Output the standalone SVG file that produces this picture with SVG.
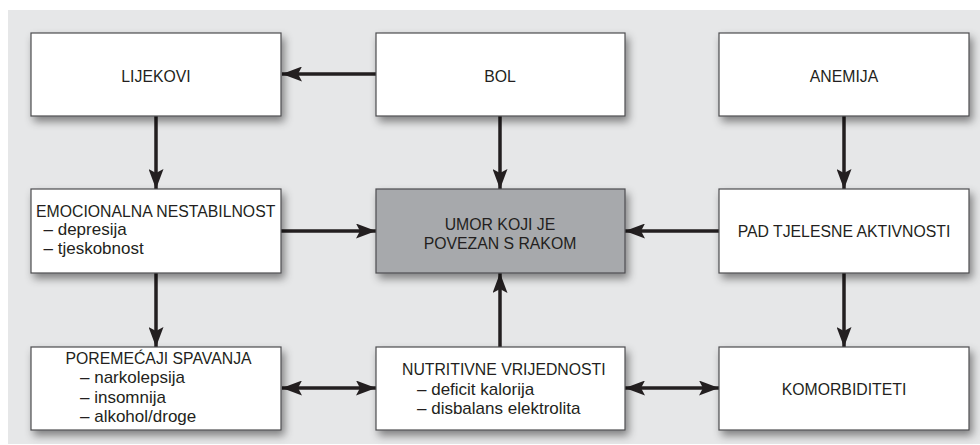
<svg xmlns="http://www.w3.org/2000/svg" width="980" height="445" viewBox="0 0 980 445">
<style>
.box{fill:#ffffff;stroke:#4d4d4f;stroke-width:1.2;filter:url(#sh)}
.core{fill:#a7a9ac}
.t{font-family:"Liberation Sans",Arial,sans-serif;font-size:15.8px;fill:#231f20}
.s{font-size:17px}
.c{text-anchor:middle}
.ln{stroke:#231f20;stroke-width:3.5;fill:none}
</style>
<defs>
<filter id="sh" x="-10%" y="-10%" width="130%" height="140%">
<feDropShadow dx="3" dy="5" stdDeviation="4" flood-color="#000" flood-opacity="0.45"/>
</filter>
<marker id="ah" markerUnits="userSpaceOnUse" viewBox="0 0 20 15" refX="20" refY="7.5" markerWidth="20" markerHeight="15" orient="auto-start-reverse">
<path d="M0,0 L20,7.5 L0,15 L4,7.5 Z" fill="#231f20"/>
</marker>
</defs>
<rect x="8" y="10" width="972" height="434" fill="#e6e7e8"/>
<g id="connectors">
<line class="ln" x1="376" y1="74" x2="282" y2="74" marker-end="url(#ah)"/>
<line class="ln" x1="156" y1="116" x2="156" y2="189" marker-end="url(#ah)"/>
<line class="ln" x1="500" y1="116" x2="500" y2="189" marker-end="url(#ah)"/>
<line class="ln" x1="844" y1="116" x2="844" y2="189" marker-end="url(#ah)"/>
<line class="ln" x1="281" y1="231" x2="376" y2="231" marker-end="url(#ah)"/>
<line class="ln" x1="719" y1="231" x2="625" y2="231" marker-end="url(#ah)"/>
<line class="ln" x1="156" y1="273" x2="156" y2="347" marker-end="url(#ah)"/>
<line class="ln" x1="500" y1="347" x2="500" y2="273" marker-end="url(#ah)"/>
<line class="ln" x1="844" y1="273" x2="844" y2="347" marker-end="url(#ah)"/>
<line class="ln" x1="282" y1="388" x2="376" y2="388" marker-start="url(#ah)" marker-end="url(#ah)"/>
<line class="ln" x1="625" y1="388" x2="719" y2="388" marker-start="url(#ah)" marker-end="url(#ah)"/>
</g>
<g id="lijekovi">
<rect class="box" x="31" y="33" width="250" height="83"/>
<text class="t c" x="156" y="82">LIJEKOVI</text>
</g>
<g id="bol">
<rect class="box" x="376" y="33" width="249" height="83"/>
<text class="t c" x="500" y="82">BOL</text>
</g>
<g id="anemija">
<rect class="box" x="719" y="33" width="250" height="83"/>
<text class="t c" x="844" y="82">ANEMIJA</text>
</g>
<g id="emocionalna">
<rect class="box" x="31" y="189" width="250" height="84"/>
<text class="t" x="36" y="216.5">EMOCIONALNA NESTABILNOST</text>
<text class="t s" x="43.5" y="235">– depresija</text>
<text class="t s" x="43.5" y="253.5">– tjeskobnost</text>
</g>
<g id="umor">
<rect class="box core" x="376" y="189" width="249" height="84"/>
<text class="t c" x="500" y="230">UMOR KOJI JE</text>
<text class="t c" x="500" y="248.5">POVEZAN S RAKOM</text>
</g>
<g id="pad">
<rect class="box" x="719" y="189" width="250" height="84"/>
<text class="t c" x="844" y="237">PAD TJELESNE AKTIVNOSTI</text>
</g>
<g id="poremecaji">
<rect class="box" x="31" y="347" width="250" height="83"/>
<text class="t" x="65.5" y="364">POREMEĆAJI SPAVANJA</text>
<text class="t s" x="80" y="383.3">– narkolepsija</text>
<text class="t s" x="80" y="402.6">– insomnija</text>
<text class="t s" x="80" y="422">– alkohol/droge</text>
</g>
<g id="nutritivne">
<rect class="box" x="376" y="347" width="249" height="83"/>
<text class="t" x="402" y="375">NUTRITIVNE VRIJEDNOSTI</text>
<text class="t s" x="417" y="394.5">– deficit kalorija</text>
<text class="t s" x="417" y="414">– disbalans elektrolita</text>
</g>
<g id="komorbiditeti">
<rect class="box" x="719" y="347" width="250" height="83"/>
<text class="t c" x="844" y="395">KOMORBIDITETI</text>
</g>
</svg>
